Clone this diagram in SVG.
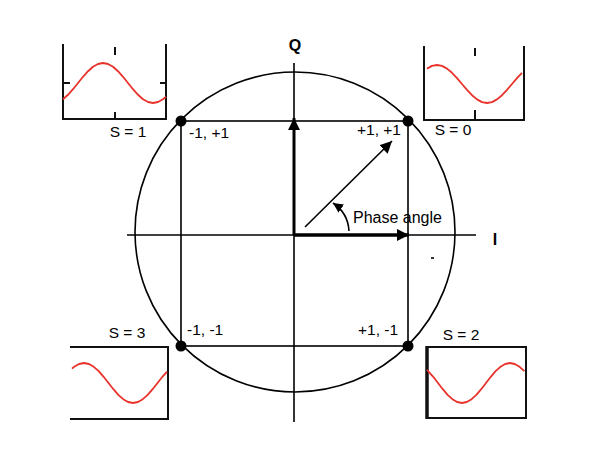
<svg xmlns="http://www.w3.org/2000/svg" width="616" height="456" viewBox="0 0 616 456">
<style>
.ln{stroke:#000;stroke-width:1.6;fill:none}
.box{stroke:#111;stroke-width:2;fill:none}
.wave{stroke:#e8332c;stroke-width:1.8;fill:none;stroke-linejoin:round}
.lbl{font-family:"Liberation Sans",Arial,sans-serif;font-size:15.5px;fill:#000}
.ax{font-family:"Liberation Sans",Arial,sans-serif;font-size:16px;font-weight:bold;fill:#000}
</style>
<defs>
<marker id="ah" markerUnits="userSpaceOnUse" markerWidth="14" markerHeight="12" refX="12" refY="6" orient="auto">
<path d="M0,0 L12,6 L0,12 Z" fill="#000"/>
</marker>
<marker id="ahs" markerUnits="userSpaceOnUse" markerWidth="12" markerHeight="10" refX="10" refY="5" orient="auto">
<path d="M0,0 L10,5 L0,10 Z" fill="#000"/>
</marker>
</defs>
<rect width="616" height="456" fill="#fff"/>
<g id="connectors">
<circle cx="295" cy="232" r="160" class="ln"/>
<line x1="127" y1="235" x2="476" y2="235" class="ln"/>
<line x1="294" y1="63" x2="294" y2="422" class="ln"/>
<rect x="181" y="121" width="227" height="225" class="ln"/>
<line x1="294" y1="235" x2="294" y2="118" stroke="#000" stroke-width="3" marker-end="url(#ah)"/>
<line x1="294" y1="235" x2="409" y2="235" stroke="#000" stroke-width="3.5" marker-end="url(#ah)"/>
<line x1="305" y1="227" x2="392" y2="141" stroke="#000" stroke-width="1.6" marker-end="url(#ah)"/>
<path d="M349,231 Q348,213 333,203" stroke="#000" stroke-width="1.6" fill="none" marker-end="url(#ahs)"/>
<rect x="431" y="257" width="3" height="2" fill="#333"/>
</g>
<g id="axis-labels">
<text x="295" y="51" class="ax" text-anchor="middle">Q</text>
<text x="495" y="245" class="ax" text-anchor="middle">I</text>
<text x="353" y="223" class="lbl" style="font-size:16px">Phase angle</text>
</g>
<g id="point-pp">
<circle cx="408" cy="121" r="5.5" fill="#000"/>
<text x="357" y="135" class="lbl">+1, +1</text>
</g>
<g id="point-mp">
<circle cx="181" cy="121" r="5.5" fill="#000"/>
<text x="189" y="138" class="lbl">-1, +1</text>
</g>
<g id="point-mm">
<circle cx="181" cy="346" r="5.5" fill="#000"/>
<text x="187" y="335" class="lbl">-1, -1</text>
</g>
<g id="point-pm">
<circle cx="408" cy="346" r="5.5" fill="#000"/>
<text x="358" y="335" class="lbl">+1, -1</text>
</g>
<g id="wave-s1">
<path d="M63,44 V119 H166 V44 M115,47 V55 M115,112 V119 M63,83 H70 M160,83 H166" class="box"/>
<polyline class="wave" points="63,99.2 68,94.8 73,89.2 78,83 83,76.8 88,71.2 93,66.8 98,64 103,63 108,64 113,66.8 118,71.2 123,76.8 128,83 133,89.2 138,94.8 143,99.2 148,102 153,103 158,102 163,99.2 166,96.7"/>
<text x="128" y="137" class="lbl" text-anchor="middle">S = 1</text>
</g>
<g id="wave-s0">
<path d="M424,46 V120 H524 V46 M475,48 V56 M475,110 V120" class="box"/>
<polyline class="wave" points="427,68.6 432,65.9 437,65 442,65.9 447,68.6 452,72.8 457,78.1 462,84 467,89.9 472,95.2 477,99.4 482,102.1 487,103 492,102.1 497,99.4 502,95.2 507,89.9 512,84 517,78.1 522,72.8"/>
<text x="453" y="135" class="lbl" text-anchor="middle">S = 0</text>
</g>
<g id="wave-s3">
<path d="M70,347 H168 V419 H70" class="box"/>
<polyline class="wave" points="72,368.6 74.2,366.8 79.1,364 84,363 88.9,364 93.8,366.8 98.7,371.2 103.6,376.8 108.5,383 113.4,389.2 118.3,394.8 123.2,399.2 128.1,402 133,403 137.9,402 142.8,399.2 147.7,394.8 152.6,389.2 157.5,383 162.4,376.8 167,371.6"/>
<text x="127" y="338" class="lbl" text-anchor="middle">S = 3</text>
</g>
<g id="wave-s2">
<path d="M427,347 H526 V418 H427 Z" class="box"/>
<line x1="427" y1="346" x2="427" y2="419" stroke="#111" stroke-width="3.5"/>
<polyline class="wave" points="427,369.8 433.2,376.8 438,383 442.8,389.2 447.6,394.8 452.4,399.2 457.2,402 462,403 466.8,402 471.6,399.2 476.4,394.8 481.2,389.2 486,383 490.8,376.8 495.6,371.2 500.4,366.8 505.2,364 510,363 514.8,364 519.6,366.8 524.4,371.2"/>
<text x="461" y="340" class="lbl" text-anchor="middle">S = 2</text>
</g>
</svg>
